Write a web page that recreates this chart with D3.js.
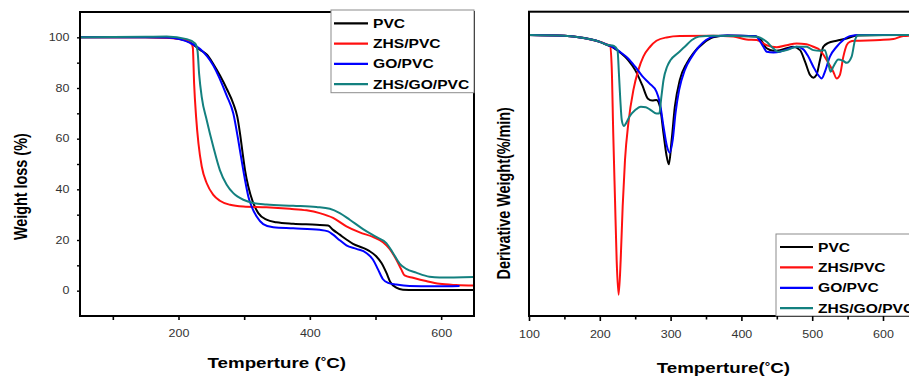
<!DOCTYPE html>
<html><head><meta charset="utf-8">
<script src="https://cdn.jsdelivr.net/npm/d3@7"></script>
<style>body{margin:0;background:#fff} svg{display:block} text{font-family:Arial,"Liberation Sans",sans-serif}</style>
</head><body>
<svg id="c" width="909" height="376"></svg>
<script>
// ---------- data ----------
const seriesNames = ["PVC", "ZHS/PVC", "GO/PVC", "ZHS/GO/PVC"];
const seriesColors = ["#000000", "#ff1010", "#0000ff", "#13807f"];

// TGA (weight %) vs temperature (°C)
const tgaPVC = [[50,100],[150,100],[182,99.9],[202.5,99.3],[217.7,98],[233,95],[243,93.2],[253,89.5],[263,85],[273.4,79.7],[283.5,73.8],[289.6,68.6],[293.7,62],[297.7,54.2],[301.3,47.6],[306.3,41.1],[313,35.2],[321.5,30.6],[334,28],[349,27],[374.7,26.4],[410,26],[427.8,25.7],[435.4,24],[445.6,22.1],[455.7,20.2],[465.8,18.5],[481,16.9],[491,15.6],[501,13.6],[508.9,11],[516.5,7.1],[522.5,3.4],[531.6,1.2],[541.8,0.4],[560,0.3],[650,0.3]];
const tgaZHS = [[50,100],[150,100],[182,99.8],[212.7,98.7],[220,97.4],[221.8,96],[223.8,81.7],[226.8,68.6],[230.4,58.1],[235.4,49],[243,42.4],[253,37.8],[263,35.5],[278.5,33.9],[298.7,33.2],[334,32.9],[369.6,32.3],[395,31.7],[415,30.6],[435.4,28.7],[455.7,25.4],[476,23],[496,21.2],[511.4,19.1],[521.5,16.5],[531.6,12.3],[539.2,8.4],[544.3,6],[557,5.1],[577,3.8],[597.5,2.7],[622.8,2.2],[650,2]];
const tgaGO = [[50,100],[150,100],[182,99.9],[202.5,99.2],[217.7,97.8],[233,95.4],[253,88.9],[273.4,77],[283.5,69.9],[291,59.4],[296,51.6],[301.3,43.7],[306.3,37.2],[311.4,33.2],[319,29.3],[329,26.3],[344.3,25],[374.7,24.6],[415,24],[427.8,23.4],[435.4,22.1],[445.6,19.9],[455.7,17.9],[471,16.5],[486,14.9],[496,12.3],[503.8,8.4],[511.4,4.5],[519,3.1],[531.6,2.4],[551.9,1.8],[587,1.7],[628,1.8]];
const tgaZHSGO = [[50,100],[150,100.2],[182,100.3],[212.7,99.3],[225.3,97.6],[228.9,94.8],[231.4,85.6],[235.4,76.4],[243,67.3],[253,56.8],[263,47.6],[273.4,41.8],[283.5,38.5],[289.6,37.2],[298.7,35.9],[314,34.6],[334,34],[374.7,33.5],[410,33],[430.4,32.3],[445.6,30.6],[460.8,28],[481,24.3],[501,21.2],[516.5,18.8],[526.6,14.9],[536.7,10.7],[546.8,8.6],[562,7.1],[582.3,5.5],[597.5,5.2],[650,5.4]];

// DTG (derivative weight, %/min) vs temperature (°C)
const dtgPVC = [[100,0],[150,-0.03],[175,-0.1],[200,-0.26],[210,-0.38],[220,-0.5],[230,-0.7],[240,-0.96],[250,-1.35],[260,-1.93],[268,-2.45],[274,-2.52],[280,-2.5],[285,-2.76],[290,-3.8],[294,-4.6],[297.5,-4.98],[301.5,-4.04],[306,-2.76],[313,-1.73],[322.7,-1.09],[332,-0.7],[346,-0.32],[360,-0.09],[380,-0.02],[420,-0.05],[426,-0.13],[435.7,-0.51],[445,-0.6],[454.5,-0.58],[464,-0.51],[473,-0.45],[482.8,-0.58],[490,-1.03],[497,-1.54],[501.6,-1.64],[506,-1.54],[511,-0.96],[515.7,-0.45],[522.8,-0.3],[534.5,-0.22],[548.7,-0.13],[562.8,-0.02],[600,0],[650,0]];
const dtgZHS = [[100,0],[150,-0.03],[175,-0.1],[200,-0.26],[210,-0.36],[214.4,-0.4],[216.8,-1.22],[219,-3.8],[221.5,-6.35],[223.8,-8.66],[226.6,-10],[229.5,-8.66],[232.3,-6.6],[235.6,-4.8],[240.3,-3.4],[247.4,-2.12],[254.4,-1.35],[261.5,-0.83],[271,-0.45],[280,-0.22],[294.4,-0.09],[313,-0.04],[360,-0.03],[388.6,-0.06],[407,-0.17],[421.6,-0.19],[435.7,-0.39],[450,-0.47],[464,-0.39],[478,-0.32],[492,-0.35],[501.6,-0.45],[511,-0.58],[520.4,-0.96],[529.8,-1.41],[534.5,-1.67],[539,-1.54],[544,-0.83],[548.7,-0.39],[553,-0.26],[560,-0.22],[595.8,-0.19],[614.6,-0.15],[628.7,-0.04],[650,-0.02]];
const dtgGO = [[100,0],[150,-0.03],[175,-0.1],[200,-0.26],[210,-0.37],[220,-0.48],[230,-0.68],[240,-0.9],[250,-1.22],[260,-1.58],[270,-1.86],[280,-2.18],[285,-2.63],[290,-3.53],[295,-4.3],[299,-4.53],[303,-4.04],[307,-3.0],[312,-2.12],[320,-1.35],[330,-0.83],[340,-0.45],[350,-0.19],[360,-0.06],[380,-0.02],[420,-0.05],[431,-0.45],[435.7,-0.64],[445,-0.67],[454.5,-0.64],[464,-0.55],[478,-0.45],[487.5,-0.55],[494.5,-0.83],[501.6,-1.22],[508.6,-1.54],[513.4,-1.67],[518,-1.41],[525,-0.83],[534.5,-0.45],[544,-0.19],[553,-0.04],[567.5,0],[650,0]];
const dtgZHSGO = [[100,0],[150,-0.03],[175,-0.1],[200,-0.26],[210,-0.37],[220,-0.42],[225,-0.58],[227,-1.48],[229,-2.5],[231,-3.27],[234,-3.5],[237,-3.4],[242,-3.14],[250,-2.89],[258,-2.76],[265,-2.78],[272,-2.89],[280,-3.02],[284,-3.02],[287,-2.37],[290,-1.73],[295,-1.22],[300,-0.96],[310,-0.7],[320,-0.45],[330,-0.19],[340,-0.06],[360,-0.03],[421.6,-0.06],[435.7,-0.26],[445,-0.51],[452,-0.64],[464,-0.58],[478,-0.45],[492,-0.45],[501.6,-0.58],[511,-0.6],[518,-0.58],[522.8,-1.09],[526,-1.41],[529.8,-1.22],[537,-0.94],[544,-1.0],[548.7,-1.07],[555.7,-0.83],[560.5,-0.19],[565,-0.01],[650,0]];

const tgaXTicks = [200, 400, 600];
const tgaXMinor = [100, 300, 500];
const tgaYTicks = [0, 20, 40, 60, 80, 100];
const tgaYMinor = [10, 30, 50, 70, 90];
const dtgXTicks = [100, 200, 300, 400, 500, 600];
const dtgXMinor = [150, 250, 350, 450, 550];

const tgaTitleX = "Temperture (°C)", tgaTitleY = "Weight loss (%)";
const dtgTitleX = "Temperture(°C)", dtgTitleY = "Derivative Weight(%/min)";

// ---------- drawing ----------
const svg = d3.select("#c");
const SX = 1.25; // horizontal text stretch of the original image

function panel(o) {
  const g = svg.append("g");
  const x = d3.scaleLinear().domain(o.xDomain).range([o.left, o.right]);
  const y = d3.scaleLinear().domain(o.yDomain).range([o.bottom, o.top]);
  const clipId = "clip" + o.id;
  svg.append("clipPath").attr("id", clipId).append("rect")
    .attr("x", o.left).attr("y", o.top).attr("width", o.right - o.left).attr("height", o.bottom - o.top);

  const line = d3.line().x(d => x(d[0])).y(d => y(d[1])).curve(d3.curveMonotoneX);
  o.series.forEach((s, i) => {
    g.append("path").datum(s).attr("d", line).attr("fill", "none")
      .attr("stroke", seriesColors[i]).attr("stroke-width", 2)
      .attr("stroke-linejoin", "round").attr("clip-path", `url(#${clipId})`);
  });

  // frame
  g.append("rect").attr("x", o.left).attr("y", o.top)
    .attr("width", o.right - o.left).attr("height", o.bottom - o.top)
    .attr("fill", "none").attr("stroke", "#000").attr("stroke-width", 2);

  // legend
  const lg = g.append("g");
  lg.append("rect").attr("x", o.leg.x0).attr("y", o.leg.y0)
    .attr("width", o.leg.x1 - o.leg.x0).attr("height", o.leg.y1 - o.leg.y0)
    .attr("fill", "#fff").attr("stroke", "#8c8c8c").attr("stroke-width", 1);
  seriesNames.forEach((n, i) => {
    const yy = o.leg.rowY + i * o.leg.step;
    lg.append("line").attr("x1", o.leg.lx0).attr("x2", o.leg.lx1).attr("y1", yy).attr("y2", yy)
      .attr("stroke", seriesColors[i]).attr("stroke-width", 2.2);
    lg.append("text").attr("transform", `translate(${o.leg.tx},${yy + 4.5}) scale(${SX},1)`)
      .attr("font-size", 12.5).attr("font-weight", "bold").attr("fill", "#000").text(n);
  });

  // x axis
  const xa = g.append("g").attr("transform", `translate(0,${o.bottom})`)
    .call(d3.axisBottom(x).tickValues(o.xTicks).tickSize(o.xTickLen).tickPadding(o.xPad).tickFormat(d3.format("d")));
  xa.select(".domain").remove();
  xa.selectAll(".tick line").attr("stroke-width", 1.6);
  xa.selectAll("text").attr("font-size", 10).attr("fill", "#333")
    .attr("transform", `scale(${SX},1)`);
  const xm = g.append("g").attr("transform", `translate(0,${o.bottom})`)
    .call(d3.axisBottom(x).tickValues(o.xMinor).tickSize(o.xMinorLen).tickFormat(""));
  xm.select(".domain").remove();
  xm.selectAll(".tick line").attr("stroke-width", 1.6);

  if (o.yTicks) {
    const ya = g.append("g").attr("transform", `translate(${o.left},0)`)
      .call(d3.axisLeft(y).tickValues(o.yTicks).tickSize(3).tickPadding(0).tickFormat(d3.format("d")));
    ya.select(".domain").remove();
    ya.selectAll(".tick line").attr("stroke-width", 1.4);
    ya.selectAll("text").attr("font-size", 10).attr("fill", "#333")
      .attr("x", 0).attr("transform", `translate(-10.5,0) scale(${SX},1)`);
    const ym = g.append("g").attr("transform", `translate(${o.left},0)`)
      .call(d3.axisLeft(y).tickValues(o.yMinor).tickSize(3).tickFormat(""));
    ym.select(".domain").remove();
    ym.selectAll(".tick line").attr("stroke-width", 1.4);
  }

  // titles
  const tx = g.append("text").attr("transform", `translate(${o.xTitle[0]},${o.xTitle[1]}) scale(${SX},1)`)
    .attr("text-anchor", "middle").attr("font-size", 15).attr("font-weight", "bold").attr("fill", "#000");
  const parts = o.xTitleText.split("°");
  tx.append("tspan").text(parts[0]);
  tx.append("tspan").attr("font-size", 11).attr("dy", -3).text("°");
  tx.append("tspan").attr("dy", 3).text(parts[1]);

  g.append("text").attr("transform", `translate(${o.yTitle[0]},${o.yTitle[1]}) rotate(-90) scale(1,${SX})`)
    .attr("text-anchor", "middle").attr("font-size", 14.4).attr("font-weight", "bold").attr("fill", "#000")
    .attr("dy", "0.35em").text(o.yTitleText);
}

panel({
  id: "a", left: 80, right: 474, top: 12, bottom: 316,
  xDomain: [50, 650], yDomain: [-10, 110],
  series: [tgaPVC, tgaZHS, tgaGO, tgaZHSGO],
  xTicks: tgaXTicks, xMinor: tgaXMinor, xTickLen: 4, xMinorLen: 4, xPad: 10,
  yTicks: tgaYTicks, yMinor: tgaYMinor,
  leg: { x0: 331, x1: 474, y0: 10, y1: 92.7, rowY: 23.3, step: 20.3, lx0: 334, lx1: 368, tx: 373 },
  xTitle: [276.7, 368], xTitleText: tgaTitleX,
  yTitle: [21, 186.7], yTitleText: tgaTitleY
});

panel({
  id: "b", left: 529, right: 918.4, top: 11.7, bottom: 316,
  xDomain: [100, 650], yDomain: [-10.82, 0.9],
  series: [dtgPVC, dtgZHS, dtgGO, dtgZHSGO],
  xTicks: dtgXTicks, xMinor: dtgXMinor, xTickLen: 5, xMinorLen: 3.5, xPad: 10,
  yTicks: null,
  leg: { x0: 776, x1: 940, y0: 234, y1: 316, rowY: 247, step: 20.4, lx0: 780, lx1: 813, tx: 818 },
  xTitle: [723.3, 373], xTitleText: dtgTitleX,
  yTitle: [504, 193.3], yTitleText: dtgTitleY
});
</script>
</body></html>
